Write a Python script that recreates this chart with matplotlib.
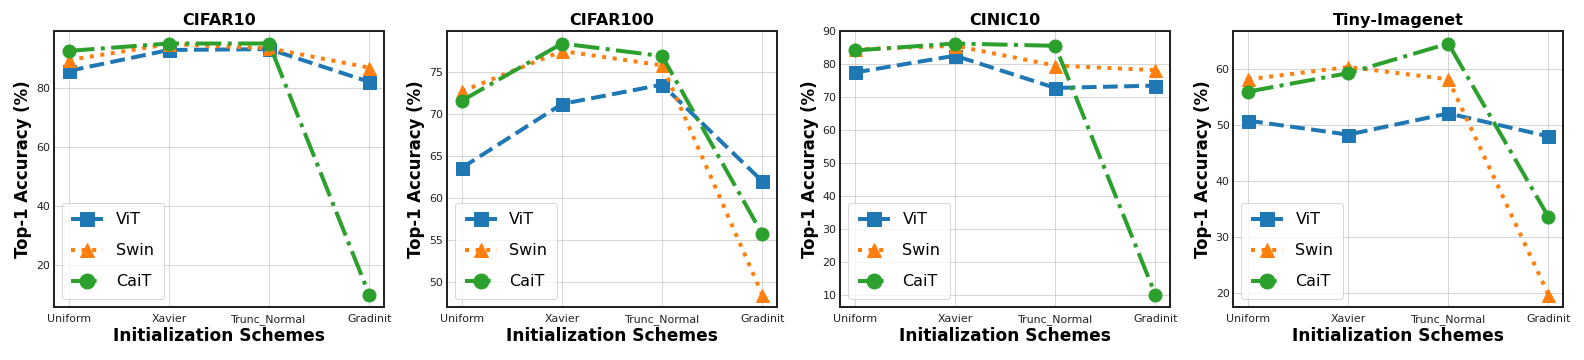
import numpy as np
import matplotlib
matplotlib.use('Agg')
import matplotlib.pyplot as plt

schemes = ['Uniform', 'Xavier', 'Trunc_Normal', 'Gradinit']
datasets = ['CIFAR10', 'CIFAR100', 'CINIC10', 'Tiny-Imagenet']

vit = [
    [85.9, 93.0, 93.3, 82.2],
    [63.6, 71.2, 73.5, 62.0],
    [77.5, 82.6, 72.8, 73.5],
    [50.8, 48.3, 52.1, 48.0],
]
swin = [
    [89.6, 95.0, 93.6, 87.0],
    [72.7, 77.5, 75.8, 48.5],
    [84.5, 85.6, 79.6, 78.2],
    [58.2, 60.4, 58.2, 19.7],
]
cait = [
    [92.7, 95.2, 95.2, 10.0],
    [71.6, 78.4, 76.9, 55.7],
    [84.2, 86.3, 85.6, 10.0],
    [56.0, 59.3, 64.6, 33.6],
]

plt.style.use('seaborn-v0_8-whitegrid')
plt.rcParams['font.family'] = 'DejaVu Sans'
plt.rcParams['text.color'] = 'black'
plt.rcParams['axes.labelcolor'] = 'black'
plt.rcParams['xtick.color'] = '#222222'
plt.rcParams['ytick.color'] = '#222222'
fig, axes = plt.subplots(1, 4, figsize=(22, 5), dpi=72)
x = np.arange(len(schemes))

for i, ax in enumerate(axes):
    ax.plot(x, vit[i], linestyle='--', marker='s', color='tab:blue', lw=4, ms=13, label='ViT')
    ax.plot(x, swin[i], linestyle=':', marker='^', color='tab:orange', lw=4, ms=13, label='Swin')
    ax.plot(x, cait[i], linestyle='-.', marker='o', color='tab:green', lw=4, ms=13, label='CaiT')
    ax.set_xticks(x)
    ax.set_xticklabels(schemes, fontsize=11)
    ax.tick_params(axis='y', labelsize=11)
    ax.tick_params(axis='x', pad=7)
    ax.set_title(datasets[i], fontsize=16, fontweight='bold')
    ax.set_xlabel('Initialization Schemes', fontsize=17, fontweight='bold', labelpad=2)
    ax.set_ylabel('Top-1 Accuracy (%)', fontsize=16.5, fontweight='bold')
    for s in ax.spines.values():
        s.set_visible(True)
        s.set_color('#222222')
        s.set_linewidth(2)
    ax.legend(loc='lower left', fontsize=16, frameon=True, borderpad=0.6,
              labelspacing=1.0, markerscale=1.15)

plt.subplots_adjust(left=0.034, right=0.987, top=0.914, bottom=0.147, wspace=0.19)
plt.savefig('out.png')
